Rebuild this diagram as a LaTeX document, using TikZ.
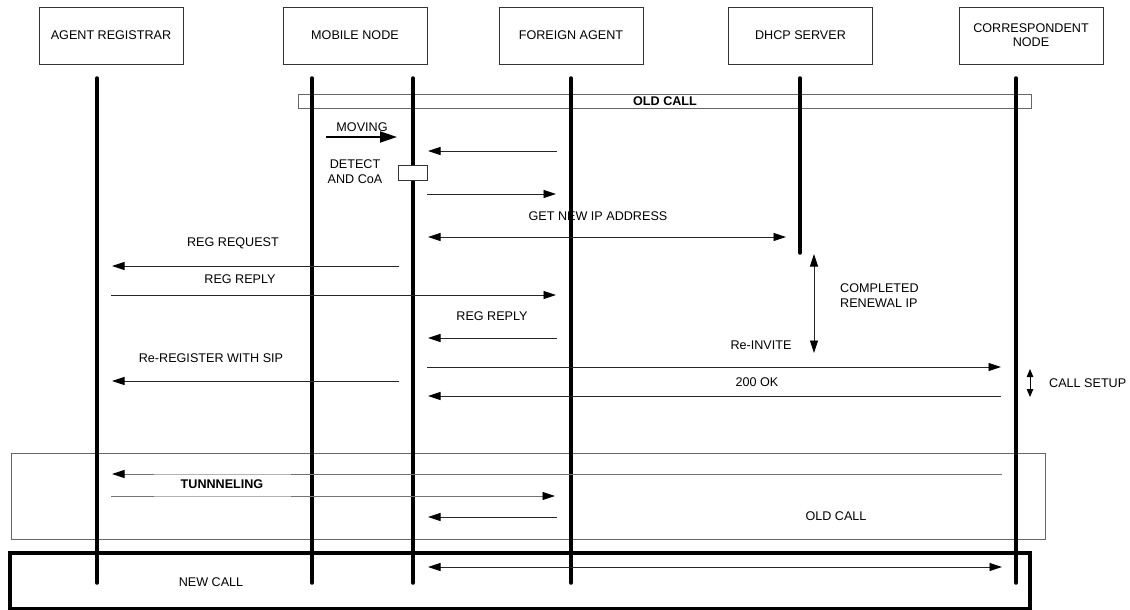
\documentclass[tikz,border=0pt]{standalone}
\usepackage{fontspec}
\setmainfont{Liberation Sans}
\usetikzlibrary{arrows.meta}
\begin{document}
\begin{tikzpicture}[x=1pt,y=-1pt,
  txt/.style={font=\fontsize{12.6}{15}\selectfont,inner sep=0pt,align=center},
  btxt/.style={font=\fontsize{12.6}{15}\selectfont\bfseries,inner sep=0pt},
  actor/.style={txt,draw=black!80,line width=0.8pt,minimum width=144pt,minimum height=57pt},
  life/.style={line width=3.5pt,line cap=round},
  msg/.style={draw=black!85,line width=0.8pt,-{Triangle[length=12.5pt,width=8pt,color=black]}},
  dmsg/.style={draw=black!85,line width=0.8pt,{Triangle[length=12.5pt,width=8pt,color=black]}-{Triangle[length=12.5pt,width=8pt,color=black]}},
  gmsg/.style={draw=black!55,line width=0.8pt,-{Triangle[length=12.5pt,width=8pt,color=black]}},
  frame/.style={draw=black!60,line width=0.8pt},
]
\useasboundingbox (0,0) rectangle (1130,610);

% actors
\node[actor] (ar) at (111,35.5) {AGENT REGISTRAR};
\node[actor] (mn) at (355,35.5) {MOBILE NODE};
\node[actor] (fa) at (571,35.5) {FOREIGN AGENT};
\node[actor] (dh) at (800.5,35.5) {DHCP SERVER};
\node[actor] (cn) at (1031,35.5) {CORRESPONDENT\\[-1pt]NODE};

% frames
\node[frame,fill=white,minimum width=733pt,minimum height=14pt,inner sep=0pt] (oldbar) at (664.5,101) {};
\node[btxt] (oldbarlbl) at (665,101) {OLD CALL};
\node[frame,minimum width=1034pt,minimum height=86pt,inner sep=0pt] (oldbox) at (528,496) {};
\node[draw=black,line width=3.5pt,minimum width=1020pt,minimum height=56pt,inner sep=0pt] (newbox) at (520,581) {};

% lifeline coordinates
\coordinate (arT) at (97,78);   \coordinate (arB) at (97,583);
\coordinate (mnT) at (312,78);  \coordinate (mnB) at (312,583);
\coordinate (mn2T) at (413,78); \coordinate (mn2B) at (413,583);
\coordinate (faT) at (571,78);  \coordinate (faB) at (571,583);
\coordinate (dhT) at (800,78);  \coordinate (dhB) at (800,253);
\coordinate (cnT) at (1016,78); \coordinate (cnB) at (1016,583);
\draw[life] (arT) -- (arB);
\draw[life] (mnT) -- (mnB);
\draw[life] (mn2T) -- (mn2B);
\draw[life] (faT) -- (faB);
\draw[life] (dhT) -- (dhB);
\draw[life] (cnT) -- (cnB);

% MOVING
\coordinate (mv1) at (326,137); \coordinate (mv2) at (397,137);
\draw[line width=1.8pt,-{Triangle[length=17pt,width=11pt]}] (mv1) -- (mv2);
\node[txt] (mvl) at (362,127.5) {MOVING};

% FA -> MN
\coordinate (a1s) at (557,151); \coordinate (a1e) at (428,151);
\draw[msg] (a1s) -- (a1e);

% DETECT AND CoA
\node[txt] (det) at (355,171.5) {DETECT\\[-0.5pt]AND CoA};
\node[draw=black!80,line width=0.8pt,fill=white,minimum width=29pt,minimum height=15pt,inner sep=0pt] (detbox) at (412.5,172.5) {};

% MN -> FA
\coordinate (a2s) at (427,194); \coordinate (a2e) at (556,194);
\draw[msg] (a2s) -- (a2e);

% GET NEW IP ADDRESS
\node[txt] (getip) at (598,216) {GET NEW IP ADDRESS};
\coordinate (a3s) at (428,237); \coordinate (a3e) at (786,237);
\draw[dmsg] (a3s) -- (a3e);

% REG REQUEST
\node[txt] (regreq) at (233,243) {REG REQUEST};
\coordinate (a4s) at (399,266); \coordinate (a4e) at (112,266);
\draw[msg] (a4s) -- (a4e);

% REG REPLY
\node[txt] (regrep1) at (240,279) {REG REPLY};
\coordinate (a5s) at (111,295); \coordinate (a5e) at (556,295);
\draw[msg] (a5s) -- (a5e);

% REG REPLY 2
\node[txt] (regrep2) at (492,316) {REG REPLY};
\coordinate (a6s) at (557,338); \coordinate (a6e) at (428,338);
\draw[msg] (a6s) -- (a6e);

% COMPLETED RENEWAL IP
\coordinate (c1) at (814,254); \coordinate (c2) at (814,353);
\draw[dmsg] (c1) -- (c2);
\node[txt,anchor=west,align=left] (comp) at (840,295.5) {COMPLETED\\[-0.5pt]RENEWAL IP};

% Re-INVITE
\node[txt] (reinv) at (761,345) {Re-INVITE};
\coordinate (a7s) at (427,367); \coordinate (a7e) at (1001,367);
\draw[msg] (a7s) -- (a7e);

% Re-REGISTER WITH SIP
\node[txt] (rereg) at (211,358) {Re-REGISTER WITH SIP};
\coordinate (a8s) at (399,381); \coordinate (a8e) at (112,381);
\draw[msg] (a8s) -- (a8e);

% 200 OK
\node[txt] (ok) at (757,382) {200 OK};
\coordinate (a9s) at (1001,396); \coordinate (a9e) at (428,396);
\draw[msg] (a9s) -- (a9e);

% CALL SETUP
\coordinate (cs1) at (1030,369); \coordinate (cs2) at (1030,397);
\draw[line width=0.8pt,{Triangle[length=8pt,width=6.5pt]}-{Triangle[length=8pt,width=6.5pt]}] (cs1) -- (cs2);
\node[txt,anchor=west] (csl) at (1049,383) {CALL SETUP};

% TUNNELING
\coordinate (t1s) at (1002,474); \coordinate (t1e) at (112,474);
\draw[gmsg] (t1s) -- (t1e);
\coordinate (t2s) at (111,496); \coordinate (t2e) at (555,496);
\draw[gmsg] (t2s) -- (t2e);
\fill[white] (154,474.5) rectangle (291,495.5);
\draw[black!30,line width=0.8pt] (154,474) -- (291,474) (154,496) -- (291,496);
\node[btxt] (tun) at (222,484.5) {TUNNNELING};

\coordinate (t3s) at (557,517); \coordinate (t3e) at (428,517);
\draw[msg] (t3s) -- (t3e);
\node[txt] (oldcall) at (836,516) {OLD CALL};

% NEW CALL
\coordinate (n1) at (428,567); \coordinate (n2) at (1002,567);
\draw[dmsg] (n1) -- (n2);
\node[txt] (newcall) at (211,582) {NEW CALL};
\end{tikzpicture}
\end{document}
